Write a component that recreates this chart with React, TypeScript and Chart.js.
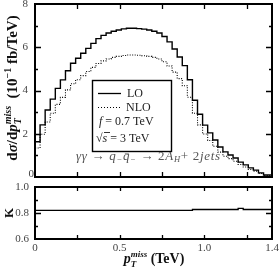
import React, { useEffect, useRef } from "react";
import { Chart, registerables } from "chart.js";
Chart.register(...registerables);

// Bin edges of the histogram (TeV)
const binEdges = [
  0, 0.03, 0.06, 0.09, 0.12, 0.15, 0.18, 0.21, 0.24, 0.27,
  0.3, 0.33, 0.36, 0.39, 0.42, 0.45, 0.48, 0.51, 0.54, 0.57,
  0.6, 0.63, 0.66, 0.69, 0.72, 0.75, 0.78, 0.81, 0.84, 0.87,
  0.9, 0.93, 0.96, 0.99, 1.02, 1.05, 1.08, 1.11, 1.14, 1.17,
  1.2, 1.23, 1.26, 1.29, 1.32, 1.35, 1.38, 1.41,
];

// dσ/dpT (10^-1 fb/TeV), leading order
const loValues = [
  0.95, 1.63, 2.41, 3.1, 3.6, 4.1, 4.49, 4.91, 5.26, 5.49,
  5.72, 5.95, 6.18, 6.4, 6.55, 6.66, 6.74, 6.8, 6.85, 6.88,
  6.88, 6.86, 6.84, 6.8, 6.74, 6.66, 6.5, 6.25, 5.92, 5.55,
  5.15, 4.5, 3.55, 2.9, 2.4, 2.04, 1.71, 1.39, 1.16, 1.02,
  0.88, 0.69, 0.56, 0.42, 0.32, 0.19, 0.09,
];

// next-to-leading order
const nloValues = [
  0.77, 1.34, 1.98, 2.54, 2.95, 3.36, 3.68, 4.03, 4.31, 4.5,
  4.69, 4.88, 5.07, 5.25, 5.37, 5.46, 5.53, 5.58, 5.62, 5.64,
  5.64, 5.63, 5.61, 5.58, 5.53, 5.46, 5.33, 5.13, 4.85, 4.55,
  4.22, 3.69, 2.95, 2.41, 1.99, 1.69, 1.42, 1.15, 0.96, 0.85,
  0.73, 0.58, 0.46, 0.35, 0.27, 0.16, 0.07,
];

// K factor
const kValues = [
  0.81, 0.82, 0.82, 0.82, 0.82, 0.82, 0.82, 0.82, 0.82, 0.82,
  0.82, 0.82, 0.82, 0.82, 0.82, 0.82, 0.82, 0.82, 0.82, 0.82,
  0.82, 0.82, 0.82, 0.82, 0.82, 0.82, 0.82, 0.82, 0.82, 0.82,
  0.82, 0.82, 0.827, 0.827, 0.827, 0.827, 0.827, 0.827, 0.827, 0.827,
  0.827, 0.835, 0.827, 0.827, 0.827, 0.827, 0.827,
];

const xTickValues = [0.25, 0.5, 0.75, 1.0, 1.25];
const xLabelValues = [0, 0.5, 1.0, 1.4];
const xLabelTexts = ["0", "0.5", "1.0", "1.4"];
const mainMajorTicks = [2, 4, 6];
const mainMinorTicks = [1, 3, 5, 7];
const mainLabelValues = [0, 2, 4, 6, 8];
const mainLabelTexts = ["0", "2", "4", "6", "8"];
const kMajorTicks = [0.8];
const kMinorTicks = [0.7, 0.9];
const kLabelValues = [0.6, 0.8, 1.0];
const kLabelTexts = ["0.6", "0.8", "1.0"];

const SERIF = "'Liberation Serif', 'DejaVu Serif', serif";

function stepPoints(values: number[]) {
  const pts = values.map((v, i) => ({ x: binEdges[i], y: v }));
  pts.push({ x: binEdges[values.length], y: values[values.length - 1] });
  return pts;
}

type Part = { t: string; font: string; dy?: number; noAdv?: boolean };

function partsWidth(ctx: CanvasRenderingContext2D, parts: Part[]) {
  let w = 0;
  for (const p of parts) {
    ctx.font = p.font;
    if (!p.noAdv) w += ctx.measureText(p.t).width;
  }
  return w;
}

function drawParts(ctx: CanvasRenderingContext2D, parts: Part[], x: number, y: number) {
  let cx = x;
  for (const p of parts) {
    ctx.font = p.font;
    ctx.fillText(p.t, cx, y + (p.dy || 0));
    if (!p.noAdv) cx += ctx.measureText(p.t).width;
  }
}

function drawFrameAndTicks(
  chart: any,
  yMajor: number[],
  yMinor: number[],
  majorLen: number,
  minorLen: number,
  xLen: number
) {
  const ctx: CanvasRenderingContext2D = chart.ctx;
  const { left, right, top, bottom } = chart.chartArea;
  const sx = chart.scales.x;
  const sy = chart.scales.y;
  ctx.save();
  ctx.strokeStyle = "#000";
  ctx.lineWidth = 1.3;
  ctx.beginPath();
  for (const v of xTickValues) {
    const px = Math.round(sx.getPixelForValue(v)) + 0.5;
    ctx.moveTo(px, bottom);
    ctx.lineTo(px, bottom - xLen);
    ctx.moveTo(px, top);
    ctx.lineTo(px, top + xLen);
  }
  for (const v of yMajor) {
    const py = Math.round(sy.getPixelForValue(v)) + 0.5;
    ctx.moveTo(left, py);
    ctx.lineTo(left + majorLen, py);
    ctx.moveTo(right, py);
    ctx.lineTo(right - majorLen, py);
  }
  for (const v of yMinor) {
    const py = Math.round(sy.getPixelForValue(v)) + 0.5;
    ctx.moveTo(left, py);
    ctx.lineTo(left + minorLen, py);
    ctx.moveTo(right, py);
    ctx.lineTo(right - minorLen, py);
  }
  ctx.stroke();
  ctx.lineWidth = 2;
  ctx.strokeRect(left, top, right - left, bottom - top);
  ctx.restore();
}

const topPlugin = {
  id: "topDecor",
  afterDraw(chart: any) {
    const ctx: CanvasRenderingContext2D = chart.ctx;
    const sy = chart.scales.y;
    const { left } = chart.chartArea;
    drawFrameAndTicks(chart, mainMajorTicks, mainMinorTicks, 6, 3, 5);
    ctx.save();
    // y tick labels
    ctx.fillStyle = "#444";
    ctx.font = `11px ${SERIF}`;
    ctx.textAlign = "right";
    ctx.textBaseline = "middle";
    mainLabelValues.forEach((v, i) => {
      const py = sy.getPixelForValue(v);
      if (v === 0) ctx.fillText(mainLabelTexts[i], left - 1, py - 3);
      else ctx.fillText(mainLabelTexts[i], left - 7, py);
    });
    // y title
    ctx.fillStyle = "#111";
    ctx.textAlign = "left";
    ctx.textBaseline = "alphabetic";
    const b = `bold 15px ${SERIF}`;
    const bi = `bold italic 15px ${SERIF}`;
    const sbi = `bold italic 10px ${SERIF}`;
    const sb = `bold 10px ${SERIF}`;
    const title: Part[] = [
      { t: "d", font: b },
      { t: "σ", font: bi },
      { t: "/d", font: b },
      { t: "p", font: bi },
      { t: "T", font: sbi, dy: 4, noAdv: true },
      { t: "miss", font: sbi, dy: -6 },
      { t: "  (10", font: b },
      { t: "−1", font: sb, dy: -6 },
      { t: " fb/TeV)", font: b },
    ];
    const tw = partsWidth(ctx, title);
    ctx.save();
    ctx.translate(17, 88);
    ctx.rotate(-Math.PI / 2);
    drawParts(ctx, title, -tw / 2, 0);
    ctx.restore();

    // legend box
    ctx.strokeStyle = "#000";
    ctx.lineWidth = 1.4;
    ctx.strokeRect(92.5, 80.5, 79, 71);
    ctx.beginPath();
    ctx.lineWidth = 1.3;
    ctx.moveTo(98, 93.5);
    ctx.lineTo(121, 93.5);
    ctx.stroke();
    ctx.beginPath();
    ctx.lineWidth = 1;
    ctx.setLineDash([1, 2]);
    ctx.moveTo(98, 107.5);
    ctx.lineTo(121, 107.5);
    ctx.stroke();
    ctx.setLineDash([]);
    ctx.fillStyle = "#222";
    ctx.textBaseline = "middle";
    const r = `12px ${SERIF}`;
    const it = `italic 12px ${SERIF}`;
    ctx.font = r;
    ctx.fillText("LO", 127, 93.5);
    ctx.fillText("NLO", 126, 107.5);
    drawParts(ctx, [
      { t: "f", font: it },
      { t: " = 0.7 TeV", font: r },
    ], 99, 122);
    drawParts(ctx, [
      { t: "√", font: r },
      { t: "s", font: it },
      { t: " = 3 TeV", font: r },
    ], 96, 138.5);
    ctx.beginPath();
    ctx.lineWidth = 0.8;
    ctx.moveTo(104, 132.5);
    ctx.lineTo(110, 132.5);
    ctx.stroke();

    // process text
    ctx.fillStyle = "#555";
    (ctx as any).letterSpacing = "0.7px";
    const pi = `italic 13px ${SERIF}`;
    const pr = `13px ${SERIF}`;
    const ps = `italic 8.5px ${SERIF}`;
    drawParts(ctx, [
      { t: "γγ", font: pi },
      { t: " → ", font: pr },
      { t: "q", font: pi },
      { t: "−", font: ps, dy: 3 },
      { t: "q\u0304", font: pi },
      { t: "−", font: ps, dy: 3 },
      { t: " → 2", font: pr },
      { t: "A", font: pi },
      { t: "H", font: ps, dy: 3 },
      { t: "+ 2", font: pr },
      { t: "jets", font: pi },
    ], 76, 157);
    (ctx as any).letterSpacing = "0px";
    ctx.restore();
  },
};

const bottomPlugin = {
  id: "bottomDecor",
  afterDraw(chart: any) {
    const ctx: CanvasRenderingContext2D = chart.ctx;
    const sx = chart.scales.x;
    const sy = chart.scales.y;
    const { left, bottom } = chart.chartArea;
    drawFrameAndTicks(chart, kMajorTicks, kMinorTicks, 6, 3, 4);
    ctx.save();
    ctx.fillStyle = "#444";
    ctx.font = `11px ${SERIF}`;
    ctx.textAlign = "right";
    ctx.textBaseline = "middle";
    kLabelValues.forEach((v, i) => {
      ctx.fillText(kLabelTexts[i], left - 6, sy.getPixelForValue(v));
    });
    ctx.textAlign = "center";
    xLabelValues.forEach((v, i) => {
      ctx.fillText(xLabelTexts[i], sx.getPixelForValue(v), bottom + 9);
    });
    // K label
    ctx.fillStyle = "#111";
    ctx.textBaseline = "alphabetic";
    ctx.save();
    ctx.translate(13, 213);
    ctx.rotate(-Math.PI / 2);
    ctx.font = `bold 13px ${SERIF}`;
    ctx.fillText("K", 0, 0);
    ctx.restore();
    // x title
    ctx.textAlign = "left";
    const bi = `bold italic 14px ${SERIF}`;
    const b = `bold 14px ${SERIF}`;
    const s = `bold italic 9px ${SERIF}`;
    const xt: Part[] = [
      { t: "p", font: bi },
      { t: "T", font: s, dy: 4, noAdv: true },
      { t: "miss", font: s, dy: -6 },
      { t: " (TeV)", font: b },
    ];
    const w = partsWidth(ctx, xt);
    drawParts(ctx, xt, 154 - w / 2, 263);
    ctx.restore();
  },
};

export default function App() {
  const topRef = useRef<HTMLCanvasElement>(null);
  const botRef = useRef<HTMLCanvasElement>(null);

  useEffect(() => {
    const common = {
      animation: false as const,
      responsive: false,
      maintainAspectRatio: false,
      events: [] as any[],
      plugins: { legend: { display: false }, tooltip: { enabled: false } },
    };
    const c1 = new Chart(topRef.current!, {
      type: "line",
      data: {
        datasets: [
          {
            data: stepPoints(loValues),
            borderColor: "#000",
            borderWidth: 1.4,
            stepped: "after",
            pointRadius: 0,
            fill: false,
          },
          {
            data: stepPoints(nloValues),
            borderColor: "#000",
            borderWidth: 1.1,
            borderDash: [1, 1.5],
            stepped: "after",
            pointRadius: 0,
            fill: false,
          },
        ],
      },
      options: {
        ...common,
        layout: { padding: { left: 35, right: 7, top: 4, bottom: 92 } },
        scales: {
          x: { type: "linear", min: 0, max: 1.4, display: false },
          y: { type: "linear", min: 0, max: 8, display: false },
        },
      },
      plugins: [topPlugin],
    } as any);
    const c2 = new Chart(botRef.current!, {
      type: "line",
      data: {
        datasets: [
          {
            data: stepPoints(kValues),
            borderColor: "#000",
            borderWidth: 1.3,
            stepped: "after",
            pointRadius: 0,
            fill: false,
          },
        ],
      },
      options: {
        ...common,
        layout: { padding: { left: 35, right: 7, top: 187, bottom: 30 } },
        scales: {
          x: { type: "linear", min: 0, max: 1.4, display: false },
          y: { type: "linear", min: 0.6, max: 1.0, display: false },
        },
      },
      plugins: [bottomPlugin],
    } as any);
    return () => {
      c1.destroy();
      c2.destroy();
    };
  }, []);

  return (
    <div style={{ position: "fixed", left: 0, top: 0, width: 279, height: 269, background: "#fff" }}>
      <canvas ref={topRef} width={279} height={269} style={{ position: "absolute", left: 0, top: 0, width: 279, height: 269 }} />
      <canvas ref={botRef} width={279} height={269} style={{ position: "absolute", left: 0, top: 0, width: 279, height: 269 }} />
    </div>
  );
}
